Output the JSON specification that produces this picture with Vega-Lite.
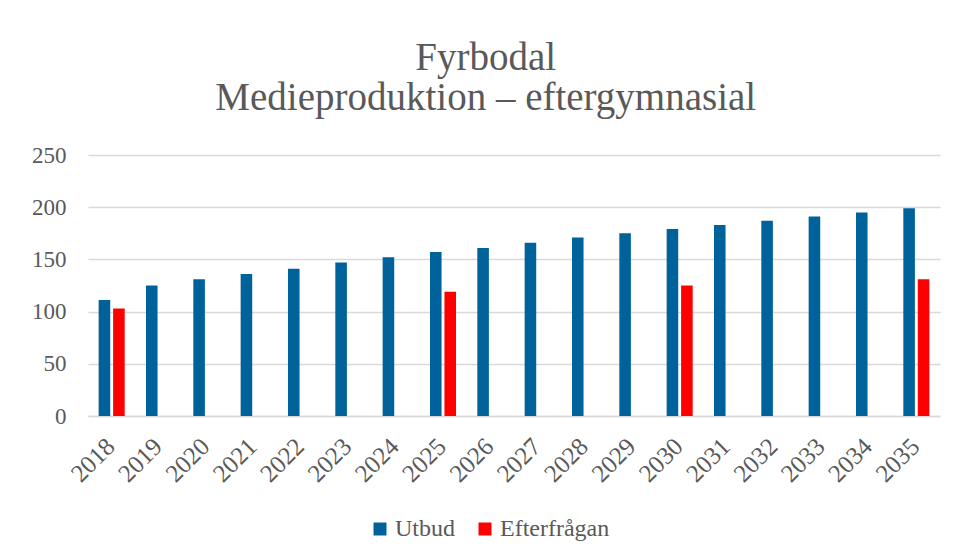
{
  "$schema": "https://vega.github.io/schema/vega-lite/v6.json",
  "width": 852,
  "height": 261,
  "padding": {"left": 31, "top": 39, "right": 17, "bottom": 10},
  "background": "white",
  "title": {
    "text": ["Fyrbodal", "Medieproduktion – eftergymnasial"],
    "font": "Liberation Serif",
    "fontSize": 39,
    "fontWeight": "normal",
    "color": "#595959",
    "lineHeight": 40,
    "anchor": "middle",
    "frame": "bounds",
    "offset": 26
  },
  "data": {
    "values": [
      {"year": "2018", "serie": "Utbud", "value": 111},
      {"year": "2018", "serie": "Efterfrågan", "value": 103},
      {"year": "2019", "serie": "Utbud", "value": 125},
      {"year": "2020", "serie": "Utbud", "value": 131},
      {"year": "2021", "serie": "Utbud", "value": 136},
      {"year": "2022", "serie": "Utbud", "value": 141},
      {"year": "2023", "serie": "Utbud", "value": 147},
      {"year": "2024", "serie": "Utbud", "value": 152},
      {"year": "2025", "serie": "Utbud", "value": 157},
      {"year": "2025", "serie": "Efterfrågan", "value": 119},
      {"year": "2026", "serie": "Utbud", "value": 161},
      {"year": "2027", "serie": "Utbud", "value": 166},
      {"year": "2028", "serie": "Utbud", "value": 171},
      {"year": "2029", "serie": "Utbud", "value": 175},
      {"year": "2030", "serie": "Utbud", "value": 179},
      {"year": "2030", "serie": "Efterfrågan", "value": 125},
      {"year": "2031", "serie": "Utbud", "value": 183},
      {"year": "2032", "serie": "Utbud", "value": 187},
      {"year": "2033", "serie": "Utbud", "value": 191},
      {"year": "2034", "serie": "Utbud", "value": 195},
      {"year": "2035", "serie": "Utbud", "value": 199},
      {"year": "2035", "serie": "Efterfrågan", "value": 131}
    ]
  },
  "mark": {"type": "bar"},
  "encoding": {
    "x": {
      "field": "year",
      "type": "nominal",
      "scale": {"paddingInner": 0.45, "paddingOuter": 0.225},
      "axis": {
        "title": null,
        "labelAngle": -45,
        "labelAlign": "right",
        "labelBaseline": "middle",
        "labelFont": "Liberation Serif",
        "labelFontSize": 25,
        "labelColor": "#595959",
        "labelPadding": 26,
        "labelOffset": -1,
        "ticks": false,
        "domainColor": "#D9D9D9",
        "domainWidth": 1.5
      }
    },
    "xOffset": {
      "field": "serie",
      "type": "nominal",
      "scale": {"domain": ["Utbud", "Efterfrågan"], "paddingInner": 0.2, "paddingOuter": 0}
    },
    "y": {
      "field": "value",
      "type": "quantitative",
      "scale": {"domain": [0, 250]},
      "axis": {
        "title": null,
        "values": [0, 50, 100, 150, 200, 250],
        "labelFont": "Liberation Serif",
        "labelFontSize": 23,
        "labelColor": "#595959",
        "labelPadding": 22,
        "ticks": false,
        "tickSize": 0,
        "domain": false,
        "gridColor": "#D9D9D9",
        "gridWidth": 1.5
      }
    },
    "color": {
      "field": "serie",
      "type": "nominal",
      "scale": {"domain": ["Utbud", "Efterfrågan"], "range": ["#00629B", "#FF0000"]},
      "legend": {
        "title": null,
        "orient": "none",
        "legendX": 280,
        "legendY": 362,
        "direction": "horizontal",
        "symbolType": "square",
        "symbolSize": 169,
        "symbolStrokeWidth": 0,
        "labelFont": "Liberation Serif",
        "labelFontSize": 24,
        "labelColor": "#595959",
        "labelOffset": 3,
        "columnPadding": 18,
        "padding": 0
      }
    }
  },
  "config": {
    "view": {"stroke": null}
  }
}
